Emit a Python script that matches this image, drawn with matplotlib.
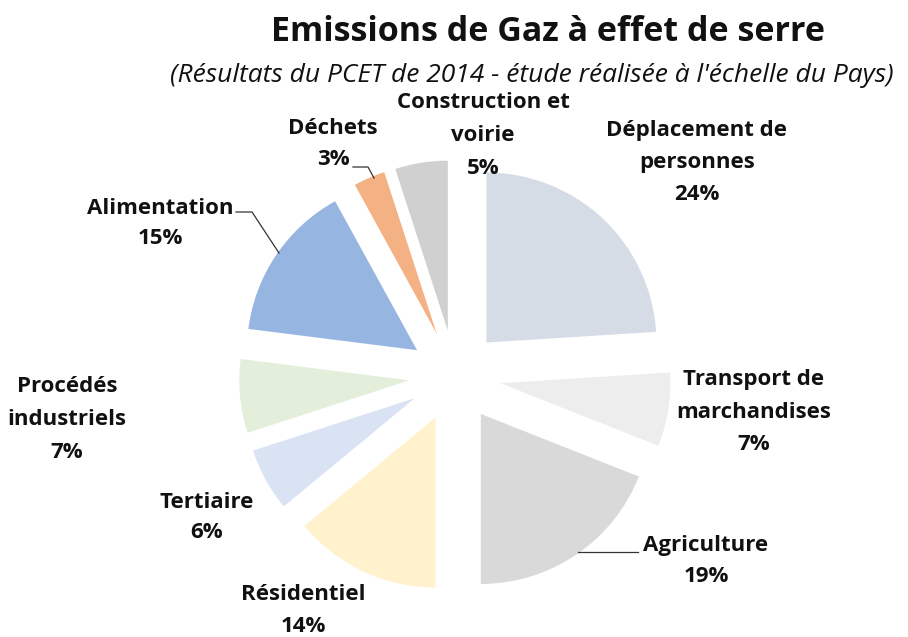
import matplotlib
matplotlib.use("Agg")
import matplotlib.pyplot as plt

# ---- data ----
categories = ["Déplacement de\npersonnes", "Transport de\nmarchandises", "Agriculture",
              "Résidentiel", "Tertiaire", "Procédés\nindustriels", "Alimentation",
              "Déchets", "Construction et\nvoirie"]
values = [24, 7, 19, 14, 6, 7, 15, 3, 5]
colors = ["#D6DCE5", "#EDEDED", "#D9D9D9", "#FFF2CC", "#DAE3F3", "#E3EFDA",
          "#96B5E0", "#F4B183", "#D0D0D0"]

# label positions in pixels (center x, top line y) -> converted to data coords
label_px = [(697, 130), (754, 380), (706, 545), (303, 595), (207, 502),
            (67, 387), (160, 208), (333, 128), (483, 103)]

W, H = 908, 637
CX, CY, R = 455, 376, 170
plt.rcParams['font.family'] = ['Open Sans', 'DejaVu Sans']

fig = plt.figure(figsize=(W / 100, H / 100), dpi=100)
ax = fig.add_axes([0, 0, 1, 1])
ax.pie(values, colors=colors, startangle=90, counterclock=False,
       explode=[0.27] * len(values), radius=1.0,
       wedgeprops=dict(linewidth=0))
ax.set_xlim(-CX / R, (W - CX) / R)
ax.set_ylim(-(H - CY) / R, CY / R)
ax.set_aspect('auto')
ax.axis('off')

def px2d(x, y):
    return ((x - CX) / R, (CY - y) / R)

fs = 16
lh = 32.5
for cat, v, (x, y) in zip(categories, values, label_px):
    lines = cat.split("\n") + [f"{v}%"]
    for i, ln in enumerate(lines):
        dx, dy = px2d(x, y + i * (lh if len(lines) > 2 or i == 0 else 31))
        ax.text(dx, dy, ln, ha='center', va='center', fontsize=fs,
                fontweight='bold', color='#111111')

# leader lines
leaders = [
    [(353, 167), (368, 167), (374, 178)],     # Déchets
    [(236, 212), (252, 212), (279, 253)],     # Alimentation
    [(638, 552), (578, 552)],                 # Agriculture
]
for seg in leaders:
    pts = [px2d(x, y) for x, y in seg]
    ax.plot([p[0] for p in pts], [p[1] for p in pts], color='#333333', lw=0.9)

fig.text(548 / W, 1 - 32 / H, "Emissions de Gaz à effet de serre", ha='center',
         va='center', fontsize=24.5, fontweight='bold', color='#111111')
fig.text(532 / W, 1 - 75 / H,
         "(Résultats du PCET de 2014 - étude réalisée à l'échelle du Pays)",
         ha='center', va='center', fontsize=19, fontstyle='italic', color='#111111')

fig.savefig("out.png", dpi=100)
